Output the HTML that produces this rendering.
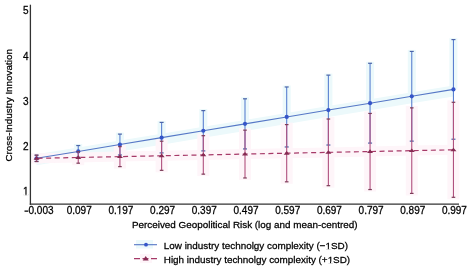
<!DOCTYPE html>
<html><head><meta charset="utf-8"><style>
html,body{margin:0;padding:0;background:#fff;}
svg{display:block;filter:blur(0.3px);}
text{font-family:"Liberation Sans",sans-serif;font-size:10px;fill:#000000;stroke:#000000;stroke-width:0.26px;}
text.s{font-size:9.9px;}
</style></head><body>
<svg width="470" height="269" viewBox="0 0 470 269">
<rect x="32.5" y="153.7" width="8" height="4.7" fill="#ecf9fb"/>
<rect x="74.2" y="144.0" width="8" height="7.4" fill="#ecf9fb"/>
<rect x="115.9" y="132.6" width="8" height="11.9" fill="#ecf9fb"/>
<rect x="157.6" y="120.9" width="8" height="16.7" fill="#ecf9fb"/>
<rect x="199.3" y="109.1" width="8" height="21.6" fill="#ecf9fb"/>
<rect x="241.0" y="97.3" width="8" height="26.6" fill="#ecf9fb"/>
<rect x="282.7" y="85.5" width="8" height="31.5" fill="#ecf9fb"/>
<rect x="324.4" y="73.6" width="8" height="36.4" fill="#ecf9fb"/>
<rect x="366.1" y="61.8" width="8" height="41.4" fill="#ecf9fb"/>
<rect x="407.8" y="49.9" width="8" height="46.4" fill="#ecf9fb"/>
<rect x="449.4" y="38.1" width="8" height="51.3" fill="#ecf9fb"/>
<polygon points="36.5,154.3 78.2,147.4 119.9,140.5 161.6,133.7 203.3,126.8 245.0,119.9 286.7,113.0 328.4,106.1 370.1,99.2 411.8,92.3 453.4,85.4 453.4,96.4 411.8,103.3 370.1,110.2 328.4,117.1 286.7,124.0 245.0,130.9 203.3,137.8 161.6,144.7 119.9,151.5 78.2,158.4 36.5,165.3" fill="#ecf9fb"/>
<rect x="30.5" y="153.2" width="12" height="10.3" fill="#fef5f9"/>
<rect x="72.2" y="149.8" width="12" height="15.4" fill="#fef5f9"/>
<rect x="113.9" y="144.6" width="12" height="24.0" fill="#fef5f9"/>
<rect x="155.6" y="139.2" width="12" height="33.1" fill="#fef5f9"/>
<rect x="197.3" y="133.7" width="12" height="42.4" fill="#fef5f9"/>
<rect x="239.0" y="128.1" width="12" height="51.8" fill="#fef5f9"/>
<rect x="280.7" y="122.6" width="12" height="61.2" fill="#fef5f9"/>
<rect x="322.4" y="117.0" width="12" height="70.7" fill="#fef5f9"/>
<rect x="364.1" y="111.4" width="12" height="80.1" fill="#fef5f9"/>
<rect x="405.8" y="105.9" width="12" height="89.6" fill="#fef5f9"/>
<rect x="447.4" y="100.3" width="12" height="99.0" fill="#fef5f9"/>
<polygon points="36.5,153.3 78.2,152.5 119.9,151.6 161.6,150.8 203.3,149.9 245.0,149.1 286.7,148.2 328.4,147.4 370.1,146.5 411.8,145.6 453.4,144.8 453.4,154.8 411.8,155.6 370.1,156.5 328.4,157.4 286.7,158.2 245.0,159.1 203.3,159.9 161.6,160.8 119.9,161.6 78.2,162.5 36.5,163.3" fill="#fef5f9"/>
<rect x="136" y="240" width="17" height="8.5" fill="#ecf9fb"/>
<rect x="140" y="254" width="12" height="9" fill="#fef5f9"/>
<line x1="30.4" y1="4.7" x2="30.4" y2="204.85" stroke="#333333" stroke-width="1.3"/>
<line x1="29.8" y1="204.2" x2="459" y2="204.2" stroke="#333333" stroke-width="1.3"/>
<text x="28.6" y="195.1" text-anchor="end">1</text>
<text x="28.6" y="149.9" text-anchor="end">2</text>
<text x="28.6" y="104.7" text-anchor="end">3</text>
<text x="28.6" y="59.5" text-anchor="end">4</text>
<text x="28.6" y="14.3" text-anchor="end">5</text>
<rect x="24.5" y="210.5" width="3.8" height="1.25" fill="#000000"/>
<text x="28.5" y="214.1">0.003</text>
<text x="79.2" y="214.1" text-anchor="middle">0.097</text>
<text x="120.9" y="214.1" text-anchor="middle">0.197</text>
<text x="162.6" y="214.1" text-anchor="middle">0.297</text>
<text x="204.3" y="214.1" text-anchor="middle">0.397</text>
<text x="246.0" y="214.1" text-anchor="middle">0.497</text>
<text x="287.7" y="214.1" text-anchor="middle">0.597</text>
<text x="329.4" y="214.1" text-anchor="middle">0.697</text>
<text x="371.1" y="214.1" text-anchor="middle">0.797</text>
<text x="412.8" y="214.1" text-anchor="middle">0.897</text>
<text x="454.4" y="214.1" text-anchor="middle">0.997</text>
<text x="244.7" y="227.5" text-anchor="middle" class="s">Perceived Geopolitical Risk (log and mean-centred)</text>
<text transform="translate(12.2,105.3) rotate(-90)" text-anchor="middle" class="s">Cross-Industry Innovation</text>
<line x1="36.55" y1="155.17" x2="36.55" y2="161.49" stroke="#5a80d0" stroke-width="1.1"/>
<line x1="34.55" y1="155.17" x2="38.55" y2="155.17" stroke="#4c64a8" stroke-width="1.2"/>
<line x1="34.55" y1="161.49" x2="38.55" y2="161.49" stroke="#4c64a8" stroke-width="1.2"/>
<line x1="78.24" y1="145.54" x2="78.24" y2="157.33" stroke="#5a80d0" stroke-width="1.1"/>
<line x1="76.24" y1="145.54" x2="80.24" y2="145.54" stroke="#4c64a8" stroke-width="1.2"/>
<line x1="76.24" y1="157.33" x2="80.24" y2="157.33" stroke="#4c64a8" stroke-width="1.2"/>
<line x1="119.93" y1="134.11" x2="119.93" y2="154.98" stroke="#5a80d0" stroke-width="1.1"/>
<line x1="117.93" y1="134.11" x2="121.93" y2="134.11" stroke="#4c64a8" stroke-width="1.2"/>
<line x1="117.93" y1="154.98" x2="121.93" y2="154.98" stroke="#4c64a8" stroke-width="1.2"/>
<line x1="161.62" y1="122.40" x2="161.62" y2="152.90" stroke="#5a80d0" stroke-width="1.1"/>
<line x1="159.62" y1="122.40" x2="163.62" y2="122.40" stroke="#4c64a8" stroke-width="1.2"/>
<line x1="159.62" y1="152.90" x2="163.62" y2="152.90" stroke="#4c64a8" stroke-width="1.2"/>
<line x1="203.31" y1="110.62" x2="203.31" y2="150.90" stroke="#5a80d0" stroke-width="1.1"/>
<line x1="201.31" y1="110.62" x2="205.31" y2="110.62" stroke="#4c64a8" stroke-width="1.2"/>
<line x1="201.31" y1="150.90" x2="205.31" y2="150.90" stroke="#4c64a8" stroke-width="1.2"/>
<line x1="245.00" y1="98.80" x2="245.00" y2="148.93" stroke="#5a80d0" stroke-width="1.1"/>
<line x1="243.00" y1="98.80" x2="247.00" y2="98.80" stroke="#4c64a8" stroke-width="1.2"/>
<line x1="243.00" y1="148.93" x2="247.00" y2="148.93" stroke="#4c64a8" stroke-width="1.2"/>
<line x1="286.69" y1="86.97" x2="286.69" y2="146.97" stroke="#5a80d0" stroke-width="1.1"/>
<line x1="284.69" y1="86.97" x2="288.69" y2="86.97" stroke="#4c64a8" stroke-width="1.2"/>
<line x1="284.69" y1="146.97" x2="288.69" y2="146.97" stroke="#4c64a8" stroke-width="1.2"/>
<line x1="328.38" y1="75.13" x2="328.38" y2="145.03" stroke="#5a80d0" stroke-width="1.1"/>
<line x1="326.38" y1="75.13" x2="330.38" y2="75.13" stroke="#4c64a8" stroke-width="1.2"/>
<line x1="326.38" y1="145.03" x2="330.38" y2="145.03" stroke="#4c64a8" stroke-width="1.2"/>
<line x1="370.07" y1="63.28" x2="370.07" y2="143.09" stroke="#5a80d0" stroke-width="1.1"/>
<line x1="368.07" y1="63.28" x2="372.07" y2="63.28" stroke="#4c64a8" stroke-width="1.2"/>
<line x1="368.07" y1="143.09" x2="372.07" y2="143.09" stroke="#4c64a8" stroke-width="1.2"/>
<line x1="411.76" y1="51.43" x2="411.76" y2="141.15" stroke="#5a80d0" stroke-width="1.1"/>
<line x1="409.76" y1="51.43" x2="413.76" y2="51.43" stroke="#4c64a8" stroke-width="1.2"/>
<line x1="409.76" y1="141.15" x2="413.76" y2="141.15" stroke="#4c64a8" stroke-width="1.2"/>
<line x1="453.45" y1="39.58" x2="453.45" y2="139.22" stroke="#5a80d0" stroke-width="1.1"/>
<line x1="451.45" y1="39.58" x2="455.45" y2="39.58" stroke="#4c64a8" stroke-width="1.2"/>
<line x1="451.45" y1="139.22" x2="455.45" y2="139.22" stroke="#4c64a8" stroke-width="1.2"/>
<polyline points="36.55,158.33 78.24,151.44 119.93,144.54 161.62,137.65 203.31,130.76 245.00,123.86 286.69,116.97 328.38,110.08 370.07,103.19 411.76,96.29 453.45,89.40" fill="none" stroke="#5577c6" stroke-width="1.1"/>
<circle cx="36.55" cy="158.33" r="2.1" fill="#3555c8"/>
<circle cx="78.24" cy="151.44" r="2.1" fill="#3555c8"/>
<circle cx="119.93" cy="144.54" r="2.1" fill="#3555c8"/>
<circle cx="161.62" cy="137.65" r="2.1" fill="#3555c8"/>
<circle cx="203.31" cy="130.76" r="2.1" fill="#3555c8"/>
<circle cx="245.00" cy="123.86" r="2.1" fill="#3555c8"/>
<circle cx="286.69" cy="116.97" r="2.1" fill="#3555c8"/>
<circle cx="328.38" cy="110.08" r="2.1" fill="#3555c8"/>
<circle cx="370.07" cy="103.19" r="2.1" fill="#3555c8"/>
<circle cx="411.76" cy="96.29" r="2.1" fill="#3555c8"/>
<circle cx="453.45" cy="89.40" r="2.1" fill="#3555c8"/>
<line x1="36.55" y1="155.17" x2="36.55" y2="161.49" stroke="#b0507e" stroke-width="1.1"/>
<line x1="34.75" y1="155.17" x2="38.35" y2="155.17" stroke="#7c3c58" stroke-width="1.2"/>
<line x1="34.75" y1="161.49" x2="38.35" y2="161.49" stroke="#7c3c58" stroke-width="1.2"/>
<line x1="78.24" y1="151.78" x2="78.24" y2="163.18" stroke="#b0507e" stroke-width="1.1"/>
<line x1="76.44" y1="151.78" x2="80.04" y2="151.78" stroke="#7c3c58" stroke-width="1.2"/>
<line x1="76.44" y1="163.18" x2="80.04" y2="163.18" stroke="#7c3c58" stroke-width="1.2"/>
<line x1="119.93" y1="146.63" x2="119.93" y2="166.62" stroke="#b0507e" stroke-width="1.1"/>
<line x1="118.13" y1="146.63" x2="121.73" y2="146.63" stroke="#7c3c58" stroke-width="1.2"/>
<line x1="118.13" y1="166.62" x2="121.73" y2="166.62" stroke="#7c3c58" stroke-width="1.2"/>
<line x1="161.62" y1="141.20" x2="161.62" y2="170.34" stroke="#b0507e" stroke-width="1.1"/>
<line x1="159.82" y1="141.20" x2="163.42" y2="141.20" stroke="#7c3c58" stroke-width="1.2"/>
<line x1="159.82" y1="170.34" x2="163.42" y2="170.34" stroke="#7c3c58" stroke-width="1.2"/>
<line x1="203.31" y1="135.69" x2="203.31" y2="174.14" stroke="#b0507e" stroke-width="1.1"/>
<line x1="201.51" y1="135.69" x2="205.11" y2="135.69" stroke="#7c3c58" stroke-width="1.2"/>
<line x1="201.51" y1="174.14" x2="205.11" y2="174.14" stroke="#7c3c58" stroke-width="1.2"/>
<line x1="245.00" y1="130.15" x2="245.00" y2="177.97" stroke="#b0507e" stroke-width="1.1"/>
<line x1="243.20" y1="130.15" x2="246.80" y2="130.15" stroke="#7c3c58" stroke-width="1.2"/>
<line x1="243.20" y1="177.97" x2="246.80" y2="177.97" stroke="#7c3c58" stroke-width="1.2"/>
<line x1="286.69" y1="124.59" x2="286.69" y2="181.82" stroke="#b0507e" stroke-width="1.1"/>
<line x1="284.89" y1="124.59" x2="288.49" y2="124.59" stroke="#7c3c58" stroke-width="1.2"/>
<line x1="284.89" y1="181.82" x2="288.49" y2="181.82" stroke="#7c3c58" stroke-width="1.2"/>
<line x1="328.38" y1="119.02" x2="328.38" y2="185.68" stroke="#b0507e" stroke-width="1.1"/>
<line x1="326.58" y1="119.02" x2="330.18" y2="119.02" stroke="#7c3c58" stroke-width="1.2"/>
<line x1="326.58" y1="185.68" x2="330.18" y2="185.68" stroke="#7c3c58" stroke-width="1.2"/>
<line x1="370.07" y1="113.44" x2="370.07" y2="189.55" stroke="#b0507e" stroke-width="1.1"/>
<line x1="368.27" y1="113.44" x2="371.87" y2="113.44" stroke="#7c3c58" stroke-width="1.2"/>
<line x1="368.27" y1="189.55" x2="371.87" y2="189.55" stroke="#7c3c58" stroke-width="1.2"/>
<line x1="411.76" y1="107.86" x2="411.76" y2="193.42" stroke="#b0507e" stroke-width="1.1"/>
<line x1="409.96" y1="107.86" x2="413.56" y2="107.86" stroke="#7c3c58" stroke-width="1.2"/>
<line x1="409.96" y1="193.42" x2="413.56" y2="193.42" stroke="#7c3c58" stroke-width="1.2"/>
<line x1="453.45" y1="102.28" x2="453.45" y2="197.30" stroke="#b0507e" stroke-width="1.1"/>
<line x1="451.65" y1="102.28" x2="455.25" y2="102.28" stroke="#7c3c58" stroke-width="1.2"/>
<line x1="451.65" y1="197.30" x2="455.25" y2="197.30" stroke="#7c3c58" stroke-width="1.2"/>
<polyline points="36.55,158.33 78.24,157.48 119.93,156.62 161.62,155.77 203.31,154.91 245.00,154.06 286.69,153.20 328.38,152.35 370.07,151.50 411.76,150.64 453.45,149.79" fill="none" stroke="#a63a68" stroke-width="1.2" stroke-dasharray="5 3.55" stroke-dashoffset="7.5"/>
<path d="M36.55,156.17 L39.55,159.77 L33.55,159.77 Z" fill="#862a52"/>
<path d="M78.24,155.32 L81.24,158.92 L75.24,158.92 Z" fill="#862a52"/>
<path d="M119.93,154.46 L122.93,158.06 L116.93,158.06 Z" fill="#862a52"/>
<path d="M161.62,153.61 L164.62,157.21 L158.62,157.21 Z" fill="#862a52"/>
<path d="M203.31,152.75 L206.31,156.35 L200.31,156.35 Z" fill="#862a52"/>
<path d="M245.00,151.90 L248.00,155.50 L242.00,155.50 Z" fill="#862a52"/>
<path d="M286.69,151.04 L289.69,154.64 L283.69,154.64 Z" fill="#862a52"/>
<path d="M328.38,150.19 L331.38,153.79 L325.38,153.79 Z" fill="#862a52"/>
<path d="M370.07,149.34 L373.07,152.94 L367.07,152.94 Z" fill="#862a52"/>
<path d="M411.76,148.48 L414.76,152.08 L408.76,152.08 Z" fill="#862a52"/>
<path d="M453.45,147.63 L456.45,151.23 L450.45,151.23 Z" fill="#862a52"/>
<line x1="134" y1="244.7" x2="157" y2="244.7" stroke="#5577c6" stroke-width="1.1"/>
<circle cx="146" cy="244.7" r="1.9" fill="#3555c8"/>
<line x1="134" y1="258.7" x2="157" y2="258.7" stroke="#a63a68" stroke-width="1.2" stroke-dasharray="6 2.5 6 2.5 6"/>
<path d="M145.70,256.06 L148.70,260.46 L142.70,260.46 Z" fill="#862a52"/>
<text x="163.8" y="248.8" class="s">Low industry technolgy complexity (−1SD)</text>
<text x="163.8" y="262.8" class="s">High industry technolgy complexity (+1SD)</text>
<rect x="23.14" y="194.00" width="2.30" height="1.80" fill="#fff"/>
<rect x="26.50" y="194.00" width="2.20" height="1.80" fill="#fff"/>
<rect x="116.86" y="213.00" width="2.30" height="1.80" fill="#fff"/>
<rect x="120.22" y="213.00" width="2.20" height="1.80" fill="#fff"/>
<rect x="325.54" y="247.71" width="2.28" height="1.78" fill="#fff"/>
<rect x="328.87" y="247.71" width="2.18" height="1.78" fill="#fff"/>
<rect x="327.73" y="261.71" width="2.28" height="1.78" fill="#fff"/>
<rect x="331.06" y="261.71" width="2.18" height="1.78" fill="#fff"/>
</svg>
</body></html>
